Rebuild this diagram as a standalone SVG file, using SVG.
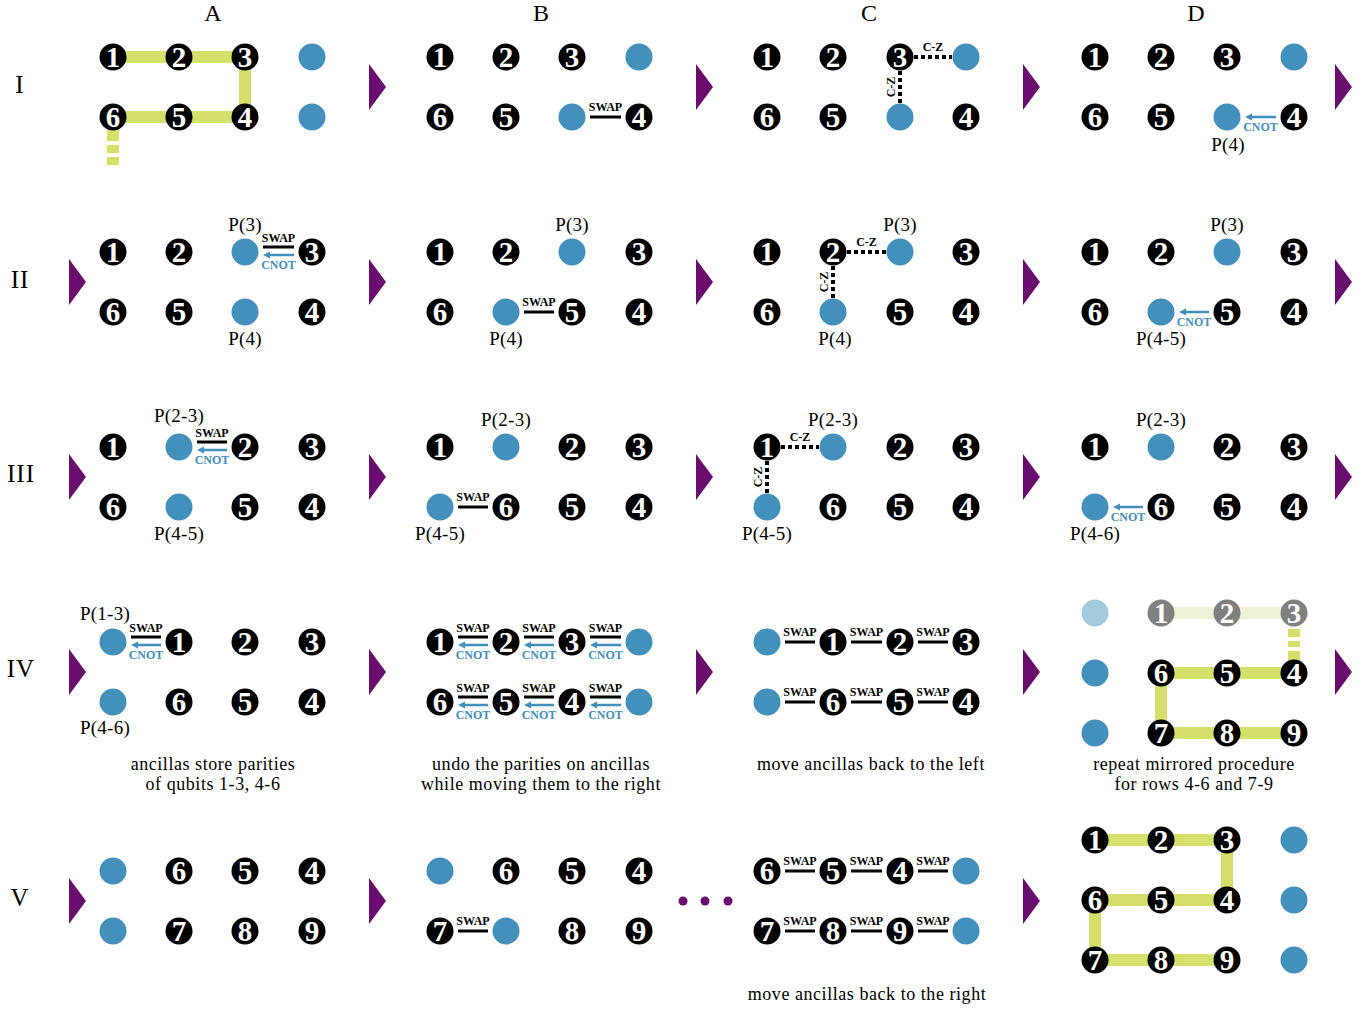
<svg xmlns="http://www.w3.org/2000/svg" width="1372" height="1011" viewBox="0 0 1372 1011">
<style>
.q{fill:#000}
.a{fill:#4390bc}
.la{fill:#a3cadd}
.g{fill:#808080}
.n{font-family:"Liberation Serif",serif;font-weight:bold;font-size:29px;fill:#fff;text-anchor:middle}
.sw{font-family:"Liberation Serif",serif;font-weight:bold;font-size:12px;fill:#000;text-anchor:middle}
.cn{font-family:"Liberation Serif",serif;font-weight:bold;font-size:12px;fill:#4390bc;text-anchor:middle}
.sl{stroke:#000;stroke-width:3}
.cl{stroke:#4390bc;stroke-width:2.5;marker-end:url(#ah)}
.cz{stroke:#000;stroke-width:4;stroke-dasharray:4 3}
.y{stroke:#d5e06a;stroke-width:12;fill:none;stroke-linejoin:miter}
.ly{stroke:#eff3d6;stroke-width:12;fill:none}
.t{font-family:"Liberation Serif",serif;font-size:19px;letter-spacing:0.25px;fill:#000;text-anchor:middle}
.c{font-family:"Liberation Serif",serif;font-size:18px;letter-spacing:0.55px;fill:#000;text-anchor:middle}
.h{font-family:"Liberation Serif",serif;font-size:24px;fill:#000;text-anchor:middle}
.r{font-family:"Liberation Serif",serif;font-size:25px;letter-spacing:1px;fill:#000;text-anchor:middle}
.p{fill:#6b0d6f}
</style>
<defs>
<marker id="ah" markerUnits="userSpaceOnUse" markerWidth="8" markerHeight="8" refX="0" refY="3.5" orient="auto"><path d="M0,0 L7,3.5 L0,7 z" fill="#4390bc"/></marker>
</defs>
<rect width="1372" height="1011" fill="#fff"/>
<g id="headers">
<text class="h" x="213" y="21">A</text><text class="h" x="541" y="21">B</text><text class="h" x="869" y="21">C</text><text class="h" x="1196" y="21">D</text>
<text class="r" x="20" y="93">I</text><text class="r" x="20" y="288">II</text><text class="r" x="21" y="482">III</text><text class="r" x="21" y="677">IV</text><text class="r" x="20" y="906">V</text>
</g>
<g id="step-arrows">
<polygon class="p" points="369,64 386,87 369,110"/><polygon class="p" points="696,64 713,87 696,110"/><polygon class="p" points="1023,64 1040,87 1023,110"/><polygon class="p" points="1335,64 1352,87 1335,110"/>
<polygon class="p" points="69,259 86,282 69,305"/><polygon class="p" points="369,259 386,282 369,305"/><polygon class="p" points="696,259 713,282 696,305"/><polygon class="p" points="1023,259 1040,282 1023,305"/><polygon class="p" points="1335,259 1352,282 1335,305"/>
<polygon class="p" points="69,454 86,477 69,500"/><polygon class="p" points="369,454 386,477 369,500"/><polygon class="p" points="696,454 713,477 696,500"/><polygon class="p" points="1023,454 1040,477 1023,500"/><polygon class="p" points="1335,454 1352,477 1335,500"/>
<polygon class="p" points="69,649 86,672 69,695"/><polygon class="p" points="369,649 386,672 369,695"/><polygon class="p" points="696,649 713,672 696,695"/><polygon class="p" points="1023,649 1040,672 1023,695"/><polygon class="p" points="1335,649 1352,672 1335,695"/>
<polygon class="p" points="69,878 86,901 69,924"/><polygon class="p" points="369,878 386,901 369,924"/><polygon class="p" points="1023,878 1040,901 1023,924"/>
<circle class="p" cx="683" cy="901" r="4.5"/><circle class="p" cx="705" cy="901" r="4.5"/><circle class="p" cx="728" cy="901" r="4.5"/>
</g>
<g id="connectors">
<path class="y" d="M113,57 H245 V117 H113 V141"/>
<path class="y" d="M113,145 V153 M113,157 V165"/>
<line class="ly" x1="1161" y1="613" x2="1294" y2="613"/>
<path class="y" d="M1294,629 V637 M1294,641 V647 M1294,651 V661"/>
<path class="y" d="M1294,673 H1161 V733 H1294"/>
<path class="y" d="M1095,840 H1227 V900 H1095 V960 H1227"/>
<line class="sl" x1="590" y1="117" x2="621" y2="117"/><text class="sw" x="605.5" y="111">SWAP</text>
<line class="cl" x1="1276" y1="117" x2="1252" y2="117"/><text class="cn" x="1260.5" y="131">CNOT</text>
<line class="cz" x1="914" y1="57" x2="952" y2="57"/><text class="sw" x="933" y="51">C-Z</text>
<line class="cz" x1="900" y1="71" x2="900" y2="103"/><text class="sw" x="895" y="87" transform="rotate(-90 895 87)">C-Z</text>
<line class="sl" x1="263" y1="247" x2="294" y2="247"/><line class="cl" x1="294" y1="255" x2="270" y2="255"/><text class="sw" x="278.5" y="242">SWAP</text><text class="cn" x="278.5" y="269">CNOT</text>
<line class="sl" x1="524" y1="312" x2="554" y2="312"/><text class="sw" x="539" y="306">SWAP</text>
<line class="cz" x1="847" y1="252" x2="886" y2="252"/><text class="sw" x="866.5" y="246">C-Z</text>
<line class="cz" x1="833" y1="266" x2="833" y2="298"/><text class="sw" x="828" y="282" transform="rotate(-90 828 282)">C-Z</text>
<line class="cl" x1="1209" y1="312" x2="1186" y2="312"/><text class="cn" x="1194" y="326">CNOT</text>
<line class="sl" x1="197" y1="442" x2="227" y2="442"/><line class="cl" x1="227" y1="450" x2="204" y2="450"/><text class="sw" x="212" y="437">SWAP</text><text class="cn" x="212" y="464">CNOT</text>
<line class="sl" x1="458" y1="507" x2="488" y2="507"/><text class="sw" x="473" y="501">SWAP</text>
<line class="cz" x1="781" y1="447" x2="819" y2="447"/><text class="sw" x="800" y="441">C-Z</text>
<line class="cz" x1="767" y1="461" x2="767" y2="493"/><text class="sw" x="762" y="477" transform="rotate(-90 762 477)">C-Z</text>
<line class="cl" x1="1143" y1="507" x2="1120" y2="507"/><text class="cn" x="1128" y="521">CNOT</text>
<line class="sl" x1="131" y1="637" x2="161" y2="637"/><line class="cl" x1="161" y1="645" x2="138" y2="645"/><text class="sw" x="146" y="632">SWAP</text><text class="cn" x="146" y="659">CNOT</text>
<line class="sl" x1="458" y1="637" x2="488" y2="637"/><line class="cl" x1="488" y1="645" x2="465" y2="645"/><text class="sw" x="473" y="632">SWAP</text><text class="cn" x="473" y="659">CNOT</text>
<line class="sl" x1="524" y1="637" x2="554" y2="637"/><line class="cl" x1="554" y1="645" x2="531" y2="645"/><text class="sw" x="539" y="632">SWAP</text><text class="cn" x="539" y="659">CNOT</text>
<line class="sl" x1="590" y1="637" x2="621" y2="637"/><line class="cl" x1="621" y1="645" x2="597" y2="645"/><text class="sw" x="605.5" y="632">SWAP</text><text class="cn" x="605.5" y="659">CNOT</text>
<line class="sl" x1="458" y1="697" x2="488" y2="697"/><line class="cl" x1="488" y1="705" x2="465" y2="705"/><text class="sw" x="473" y="692">SWAP</text><text class="cn" x="473" y="719">CNOT</text>
<line class="sl" x1="524" y1="697" x2="554" y2="697"/><line class="cl" x1="554" y1="705" x2="531" y2="705"/><text class="sw" x="539" y="692">SWAP</text><text class="cn" x="539" y="719">CNOT</text>
<line class="sl" x1="590" y1="697" x2="621" y2="697"/><line class="cl" x1="621" y1="705" x2="597" y2="705"/><text class="sw" x="605.5" y="692">SWAP</text><text class="cn" x="605.5" y="719">CNOT</text>
<line class="sl" x1="785" y1="642" x2="815" y2="642"/><text class="sw" x="800" y="636">SWAP</text>
<line class="sl" x1="851" y1="642" x2="882" y2="642"/><text class="sw" x="866.5" y="636">SWAP</text>
<line class="sl" x1="918" y1="642" x2="948" y2="642"/><text class="sw" x="933" y="636">SWAP</text>
<line class="sl" x1="785" y1="702" x2="815" y2="702"/><text class="sw" x="800" y="696">SWAP</text>
<line class="sl" x1="851" y1="702" x2="882" y2="702"/><text class="sw" x="866.5" y="696">SWAP</text>
<line class="sl" x1="918" y1="702" x2="948" y2="702"/><text class="sw" x="933" y="696">SWAP</text>
<line class="sl" x1="458" y1="931" x2="488" y2="931"/><text class="sw" x="473" y="925">SWAP</text>
<line class="sl" x1="785" y1="871" x2="815" y2="871"/><text class="sw" x="800" y="865">SWAP</text>
<line class="sl" x1="851" y1="871" x2="882" y2="871"/><text class="sw" x="866.5" y="865">SWAP</text>
<line class="sl" x1="918" y1="871" x2="948" y2="871"/><text class="sw" x="933" y="865">SWAP</text>
<line class="sl" x1="785" y1="931" x2="815" y2="931"/><text class="sw" x="800" y="925">SWAP</text>
<line class="sl" x1="851" y1="931" x2="882" y2="931"/><text class="sw" x="866.5" y="925">SWAP</text>
<line class="sl" x1="918" y1="931" x2="948" y2="931"/><text class="sw" x="933" y="925">SWAP</text>
</g>
<g id="labels">
<text class="t" x="1228" y="151">P(4)</text>
<text class="t" x="245" y="231">P(3)</text><text class="t" x="245" y="345">P(4)</text>
<text class="t" x="572" y="231">P(3)</text><text class="t" x="506" y="345">P(4)</text>
<text class="t" x="900" y="231">P(3)</text><text class="t" x="835" y="345">P(4)</text>
<text class="t" x="1227" y="231">P(3)</text><text class="t" x="1161" y="345">P(4-5)</text>
<text class="t" x="179" y="422">P(2-3)</text><text class="t" x="179" y="540">P(4-5)</text>
<text class="t" x="506" y="426">P(2-3)</text><text class="t" x="440" y="540">P(4-5)</text>
<text class="t" x="833" y="426">P(2-3)</text><text class="t" x="767" y="540">P(4-5)</text>
<text class="t" x="1161" y="426">P(2-3)</text><text class="t" x="1095" y="540">P(4-6)</text>
<text class="t" x="105" y="620">P(1-3)</text><text class="t" x="105" y="734">P(4-6)</text>
<text class="c" x="213" y="770">ancillas store parities</text><text class="c" x="213" y="790">of qubits 1-3, 4-6</text>
<text class="c" x="541" y="770">undo the parities on ancillas</text><text class="c" x="541" y="790">while moving them to the right</text>
<text class="c" x="871" y="770">move ancillas back to the left</text>
<text class="c" x="1194" y="770">repeat mirrored procedure</text><text class="c" x="1194" y="790">for rows 4-6 and 7-9</text>
<text class="c" x="867" y="1000">move ancillas back to the right</text>
</g>
<g id="nodes">
<g id="IA1"><circle class="q" cx="113" cy="57" r="13.5"/><text class="n" x="113" y="67">1</text></g>
<g id="IA2"><circle class="q" cx="179" cy="57" r="13.5"/><text class="n" x="179" y="67">2</text></g>
<g id="IA3"><circle class="q" cx="245" cy="57" r="13.5"/><text class="n" x="245" y="67">3</text></g>
<g id="IAa1"><circle class="a" cx="312" cy="57" r="13.5"/></g>
<g id="IA6"><circle class="q" cx="113" cy="117" r="13.5"/><text class="n" x="113" y="127">6</text></g>
<g id="IA5"><circle class="q" cx="179" cy="117" r="13.5"/><text class="n" x="179" y="127">5</text></g>
<g id="IA4"><circle class="q" cx="245" cy="117" r="13.5"/><text class="n" x="245" y="127">4</text></g>
<g id="IAa2"><circle class="a" cx="312" cy="117" r="13.5"/></g>
<g id="IB1"><circle class="q" cx="440" cy="57" r="13.5"/><text class="n" x="440" y="67">1</text></g>
<g id="IB2"><circle class="q" cx="506" cy="57" r="13.5"/><text class="n" x="506" y="67">2</text></g>
<g id="IB3"><circle class="q" cx="572" cy="57" r="13.5"/><text class="n" x="572" y="67">3</text></g>
<g id="IBa1"><circle class="a" cx="639" cy="57" r="13.5"/></g>
<g id="IB6"><circle class="q" cx="440" cy="117" r="13.5"/><text class="n" x="440" y="127">6</text></g>
<g id="IB5"><circle class="q" cx="506" cy="117" r="13.5"/><text class="n" x="506" y="127">5</text></g>
<g id="IBa2"><circle class="a" cx="572" cy="117" r="13.5"/></g>
<g id="IB4"><circle class="q" cx="639" cy="117" r="13.5"/><text class="n" x="639" y="127">4</text></g>
<g id="IC1"><circle class="q" cx="767" cy="57" r="13.5"/><text class="n" x="767" y="67">1</text></g>
<g id="IC2"><circle class="q" cx="833" cy="57" r="13.5"/><text class="n" x="833" y="67">2</text></g>
<g id="IC3"><circle class="q" cx="900" cy="57" r="13.5"/><text class="n" x="900" y="67">3</text></g>
<g id="ICa1"><circle class="a" cx="966" cy="57" r="13.5"/></g>
<g id="IC6"><circle class="q" cx="767" cy="117" r="13.5"/><text class="n" x="767" y="127">6</text></g>
<g id="IC5"><circle class="q" cx="833" cy="117" r="13.5"/><text class="n" x="833" y="127">5</text></g>
<g id="ICa2"><circle class="a" cx="900" cy="117" r="13.5"/></g>
<g id="IC4"><circle class="q" cx="966" cy="117" r="13.5"/><text class="n" x="966" y="127">4</text></g>
<g id="ID1"><circle class="q" cx="1095" cy="57" r="13.5"/><text class="n" x="1095" y="67">1</text></g>
<g id="ID2"><circle class="q" cx="1161" cy="57" r="13.5"/><text class="n" x="1161" y="67">2</text></g>
<g id="ID3"><circle class="q" cx="1227" cy="57" r="13.5"/><text class="n" x="1227" y="67">3</text></g>
<g id="IDa1"><circle class="a" cx="1294" cy="57" r="13.5"/></g>
<g id="ID6"><circle class="q" cx="1095" cy="117" r="13.5"/><text class="n" x="1095" y="127">6</text></g>
<g id="ID5"><circle class="q" cx="1161" cy="117" r="13.5"/><text class="n" x="1161" y="127">5</text></g>
<g id="IDa2"><circle class="a" cx="1227" cy="117" r="13.5"/></g>
<g id="ID4"><circle class="q" cx="1294" cy="117" r="13.5"/><text class="n" x="1294" y="127">4</text></g>
<g id="IIA1"><circle class="q" cx="113" cy="252" r="13.5"/><text class="n" x="113" y="262">1</text></g>
<g id="IIA2"><circle class="q" cx="179" cy="252" r="13.5"/><text class="n" x="179" y="262">2</text></g>
<g id="IIAa1"><circle class="a" cx="245" cy="252" r="13.5"/></g>
<g id="IIA3"><circle class="q" cx="312" cy="252" r="13.5"/><text class="n" x="312" y="262">3</text></g>
<g id="IIA6"><circle class="q" cx="113" cy="312" r="13.5"/><text class="n" x="113" y="322">6</text></g>
<g id="IIA5"><circle class="q" cx="179" cy="312" r="13.5"/><text class="n" x="179" y="322">5</text></g>
<g id="IIAa2"><circle class="a" cx="245" cy="312" r="13.5"/></g>
<g id="IIA4"><circle class="q" cx="312" cy="312" r="13.5"/><text class="n" x="312" y="322">4</text></g>
<g id="IIB1"><circle class="q" cx="440" cy="252" r="13.5"/><text class="n" x="440" y="262">1</text></g>
<g id="IIB2"><circle class="q" cx="506" cy="252" r="13.5"/><text class="n" x="506" y="262">2</text></g>
<g id="IIBa1"><circle class="a" cx="572" cy="252" r="13.5"/></g>
<g id="IIB3"><circle class="q" cx="639" cy="252" r="13.5"/><text class="n" x="639" y="262">3</text></g>
<g id="IIB6"><circle class="q" cx="440" cy="312" r="13.5"/><text class="n" x="440" y="322">6</text></g>
<g id="IIBa2"><circle class="a" cx="506" cy="312" r="13.5"/></g>
<g id="IIB5"><circle class="q" cx="572" cy="312" r="13.5"/><text class="n" x="572" y="322">5</text></g>
<g id="IIB4"><circle class="q" cx="639" cy="312" r="13.5"/><text class="n" x="639" y="322">4</text></g>
<g id="IIC1"><circle class="q" cx="767" cy="252" r="13.5"/><text class="n" x="767" y="262">1</text></g>
<g id="IIC2"><circle class="q" cx="833" cy="252" r="13.5"/><text class="n" x="833" y="262">2</text></g>
<g id="IICa1"><circle class="a" cx="900" cy="252" r="13.5"/></g>
<g id="IIC3"><circle class="q" cx="966" cy="252" r="13.5"/><text class="n" x="966" y="262">3</text></g>
<g id="IIC6"><circle class="q" cx="767" cy="312" r="13.5"/><text class="n" x="767" y="322">6</text></g>
<g id="IICa2"><circle class="a" cx="833" cy="312" r="13.5"/></g>
<g id="IIC5"><circle class="q" cx="900" cy="312" r="13.5"/><text class="n" x="900" y="322">5</text></g>
<g id="IIC4"><circle class="q" cx="966" cy="312" r="13.5"/><text class="n" x="966" y="322">4</text></g>
<g id="IID1"><circle class="q" cx="1095" cy="252" r="13.5"/><text class="n" x="1095" y="262">1</text></g>
<g id="IID2"><circle class="q" cx="1161" cy="252" r="13.5"/><text class="n" x="1161" y="262">2</text></g>
<g id="IIDa1"><circle class="a" cx="1227" cy="252" r="13.5"/></g>
<g id="IID3"><circle class="q" cx="1294" cy="252" r="13.5"/><text class="n" x="1294" y="262">3</text></g>
<g id="IID6"><circle class="q" cx="1095" cy="312" r="13.5"/><text class="n" x="1095" y="322">6</text></g>
<g id="IIDa2"><circle class="a" cx="1161" cy="312" r="13.5"/></g>
<g id="IID5"><circle class="q" cx="1227" cy="312" r="13.5"/><text class="n" x="1227" y="322">5</text></g>
<g id="IID4"><circle class="q" cx="1294" cy="312" r="13.5"/><text class="n" x="1294" y="322">4</text></g>
<g id="IIIA1"><circle class="q" cx="113" cy="447" r="13.5"/><text class="n" x="113" y="457">1</text></g>
<g id="IIIAa1"><circle class="a" cx="179" cy="447" r="13.5"/></g>
<g id="IIIA2"><circle class="q" cx="245" cy="447" r="13.5"/><text class="n" x="245" y="457">2</text></g>
<g id="IIIA3"><circle class="q" cx="312" cy="447" r="13.5"/><text class="n" x="312" y="457">3</text></g>
<g id="IIIA6"><circle class="q" cx="113" cy="507" r="13.5"/><text class="n" x="113" y="517">6</text></g>
<g id="IIIAa2"><circle class="a" cx="179" cy="507" r="13.5"/></g>
<g id="IIIA5"><circle class="q" cx="245" cy="507" r="13.5"/><text class="n" x="245" y="517">5</text></g>
<g id="IIIA4"><circle class="q" cx="312" cy="507" r="13.5"/><text class="n" x="312" y="517">4</text></g>
<g id="IIIB1"><circle class="q" cx="440" cy="447" r="13.5"/><text class="n" x="440" y="457">1</text></g>
<g id="IIIBa1"><circle class="a" cx="506" cy="447" r="13.5"/></g>
<g id="IIIB2"><circle class="q" cx="572" cy="447" r="13.5"/><text class="n" x="572" y="457">2</text></g>
<g id="IIIB3"><circle class="q" cx="639" cy="447" r="13.5"/><text class="n" x="639" y="457">3</text></g>
<g id="IIIBa2"><circle class="a" cx="440" cy="507" r="13.5"/></g>
<g id="IIIB6"><circle class="q" cx="506" cy="507" r="13.5"/><text class="n" x="506" y="517">6</text></g>
<g id="IIIB5"><circle class="q" cx="572" cy="507" r="13.5"/><text class="n" x="572" y="517">5</text></g>
<g id="IIIB4"><circle class="q" cx="639" cy="507" r="13.5"/><text class="n" x="639" y="517">4</text></g>
<g id="IIIC1"><circle class="q" cx="767" cy="447" r="13.5"/><text class="n" x="767" y="457">1</text></g>
<g id="IIICa1"><circle class="a" cx="833" cy="447" r="13.5"/></g>
<g id="IIIC2"><circle class="q" cx="900" cy="447" r="13.5"/><text class="n" x="900" y="457">2</text></g>
<g id="IIIC3"><circle class="q" cx="966" cy="447" r="13.5"/><text class="n" x="966" y="457">3</text></g>
<g id="IIICa2"><circle class="a" cx="767" cy="507" r="13.5"/></g>
<g id="IIIC6"><circle class="q" cx="833" cy="507" r="13.5"/><text class="n" x="833" y="517">6</text></g>
<g id="IIIC5"><circle class="q" cx="900" cy="507" r="13.5"/><text class="n" x="900" y="517">5</text></g>
<g id="IIIC4"><circle class="q" cx="966" cy="507" r="13.5"/><text class="n" x="966" y="517">4</text></g>
<g id="IIID1"><circle class="q" cx="1095" cy="447" r="13.5"/><text class="n" x="1095" y="457">1</text></g>
<g id="IIIDa1"><circle class="a" cx="1161" cy="447" r="13.5"/></g>
<g id="IIID2"><circle class="q" cx="1227" cy="447" r="13.5"/><text class="n" x="1227" y="457">2</text></g>
<g id="IIID3"><circle class="q" cx="1294" cy="447" r="13.5"/><text class="n" x="1294" y="457">3</text></g>
<g id="IIIDa2"><circle class="a" cx="1095" cy="507" r="13.5"/></g>
<g id="IIID6"><circle class="q" cx="1161" cy="507" r="13.5"/><text class="n" x="1161" y="517">6</text></g>
<g id="IIID5"><circle class="q" cx="1227" cy="507" r="13.5"/><text class="n" x="1227" y="517">5</text></g>
<g id="IIID4"><circle class="q" cx="1294" cy="507" r="13.5"/><text class="n" x="1294" y="517">4</text></g>
<g id="IVAa1"><circle class="a" cx="113" cy="642" r="13.5"/></g>
<g id="IVA1"><circle class="q" cx="179" cy="642" r="13.5"/><text class="n" x="179" y="652">1</text></g>
<g id="IVA2"><circle class="q" cx="245" cy="642" r="13.5"/><text class="n" x="245" y="652">2</text></g>
<g id="IVA3"><circle class="q" cx="312" cy="642" r="13.5"/><text class="n" x="312" y="652">3</text></g>
<g id="IVAa2"><circle class="a" cx="113" cy="702" r="13.5"/></g>
<g id="IVA6"><circle class="q" cx="179" cy="702" r="13.5"/><text class="n" x="179" y="712">6</text></g>
<g id="IVA5"><circle class="q" cx="245" cy="702" r="13.5"/><text class="n" x="245" y="712">5</text></g>
<g id="IVA4"><circle class="q" cx="312" cy="702" r="13.5"/><text class="n" x="312" y="712">4</text></g>
<g id="IVB1"><circle class="q" cx="440" cy="642" r="13.5"/><text class="n" x="440" y="652">1</text></g>
<g id="IVB2"><circle class="q" cx="506" cy="642" r="13.5"/><text class="n" x="506" y="652">2</text></g>
<g id="IVB3"><circle class="q" cx="572" cy="642" r="13.5"/><text class="n" x="572" y="652">3</text></g>
<g id="IVBa1"><circle class="a" cx="639" cy="642" r="13.5"/></g>
<g id="IVB6"><circle class="q" cx="440" cy="702" r="13.5"/><text class="n" x="440" y="712">6</text></g>
<g id="IVB5"><circle class="q" cx="506" cy="702" r="13.5"/><text class="n" x="506" y="712">5</text></g>
<g id="IVB4"><circle class="q" cx="572" cy="702" r="13.5"/><text class="n" x="572" y="712">4</text></g>
<g id="IVBa2"><circle class="a" cx="639" cy="702" r="13.5"/></g>
<g id="IVCa1"><circle class="a" cx="767" cy="642" r="13.5"/></g>
<g id="IVC1"><circle class="q" cx="833" cy="642" r="13.5"/><text class="n" x="833" y="652">1</text></g>
<g id="IVC2"><circle class="q" cx="900" cy="642" r="13.5"/><text class="n" x="900" y="652">2</text></g>
<g id="IVC3"><circle class="q" cx="966" cy="642" r="13.5"/><text class="n" x="966" y="652">3</text></g>
<g id="IVCa2"><circle class="a" cx="767" cy="702" r="13.5"/></g>
<g id="IVC6"><circle class="q" cx="833" cy="702" r="13.5"/><text class="n" x="833" y="712">6</text></g>
<g id="IVC5"><circle class="q" cx="900" cy="702" r="13.5"/><text class="n" x="900" y="712">5</text></g>
<g id="IVC4"><circle class="q" cx="966" cy="702" r="13.5"/><text class="n" x="966" y="712">4</text></g>
<g id="IVDa1"><circle class="la" cx="1095" cy="613" r="13.5"/></g>
<g id="IVD1"><circle class="g" cx="1161" cy="613" r="13.5"/><text class="n" x="1161" y="623">1</text></g>
<g id="IVD2"><circle class="g" cx="1227" cy="613" r="13.5"/><text class="n" x="1227" y="623">2</text></g>
<g id="IVD3"><circle class="g" cx="1294" cy="613" r="13.5"/><text class="n" x="1294" y="623">3</text></g>
<g id="IVDa2"><circle class="a" cx="1095" cy="673" r="13.5"/></g>
<g id="IVD6"><circle class="q" cx="1161" cy="673" r="13.5"/><text class="n" x="1161" y="683">6</text></g>
<g id="IVD5"><circle class="q" cx="1227" cy="673" r="13.5"/><text class="n" x="1227" y="683">5</text></g>
<g id="IVD4"><circle class="q" cx="1294" cy="673" r="13.5"/><text class="n" x="1294" y="683">4</text></g>
<g id="IVDa3"><circle class="a" cx="1095" cy="733" r="13.5"/></g>
<g id="IVD7"><circle class="q" cx="1161" cy="733" r="13.5"/><text class="n" x="1161" y="743">7</text></g>
<g id="IVD8"><circle class="q" cx="1227" cy="733" r="13.5"/><text class="n" x="1227" y="743">8</text></g>
<g id="IVD9"><circle class="q" cx="1294" cy="733" r="13.5"/><text class="n" x="1294" y="743">9</text></g>
<g id="VAa1"><circle class="a" cx="113" cy="871" r="13.5"/></g>
<g id="VA6"><circle class="q" cx="179" cy="871" r="13.5"/><text class="n" x="179" y="881">6</text></g>
<g id="VA5"><circle class="q" cx="245" cy="871" r="13.5"/><text class="n" x="245" y="881">5</text></g>
<g id="VA4"><circle class="q" cx="312" cy="871" r="13.5"/><text class="n" x="312" y="881">4</text></g>
<g id="VAa2"><circle class="a" cx="113" cy="931" r="13.5"/></g>
<g id="VA7"><circle class="q" cx="179" cy="931" r="13.5"/><text class="n" x="179" y="941">7</text></g>
<g id="VA8"><circle class="q" cx="245" cy="931" r="13.5"/><text class="n" x="245" y="941">8</text></g>
<g id="VA9"><circle class="q" cx="312" cy="931" r="13.5"/><text class="n" x="312" y="941">9</text></g>
<g id="VBa1"><circle class="a" cx="440" cy="871" r="13.5"/></g>
<g id="VB6"><circle class="q" cx="506" cy="871" r="13.5"/><text class="n" x="506" y="881">6</text></g>
<g id="VB5"><circle class="q" cx="572" cy="871" r="13.5"/><text class="n" x="572" y="881">5</text></g>
<g id="VB4"><circle class="q" cx="639" cy="871" r="13.5"/><text class="n" x="639" y="881">4</text></g>
<g id="VB7"><circle class="q" cx="440" cy="931" r="13.5"/><text class="n" x="440" y="941">7</text></g>
<g id="VBa2"><circle class="a" cx="506" cy="931" r="13.5"/></g>
<g id="VB8"><circle class="q" cx="572" cy="931" r="13.5"/><text class="n" x="572" y="941">8</text></g>
<g id="VB9"><circle class="q" cx="639" cy="931" r="13.5"/><text class="n" x="639" y="941">9</text></g>
<g id="VC6"><circle class="q" cx="767" cy="871" r="13.5"/><text class="n" x="767" y="881">6</text></g>
<g id="VC5"><circle class="q" cx="833" cy="871" r="13.5"/><text class="n" x="833" y="881">5</text></g>
<g id="VC4"><circle class="q" cx="900" cy="871" r="13.5"/><text class="n" x="900" y="881">4</text></g>
<g id="VCa1"><circle class="a" cx="966" cy="871" r="13.5"/></g>
<g id="VC7"><circle class="q" cx="767" cy="931" r="13.5"/><text class="n" x="767" y="941">7</text></g>
<g id="VC8"><circle class="q" cx="833" cy="931" r="13.5"/><text class="n" x="833" y="941">8</text></g>
<g id="VC9"><circle class="q" cx="900" cy="931" r="13.5"/><text class="n" x="900" y="941">9</text></g>
<g id="VCa2"><circle class="a" cx="966" cy="931" r="13.5"/></g>
<g id="VD1"><circle class="q" cx="1095" cy="840" r="13.5"/><text class="n" x="1095" y="850">1</text></g>
<g id="VD2"><circle class="q" cx="1161" cy="840" r="13.5"/><text class="n" x="1161" y="850">2</text></g>
<g id="VD3"><circle class="q" cx="1227" cy="840" r="13.5"/><text class="n" x="1227" y="850">3</text></g>
<g id="VDa1"><circle class="a" cx="1294" cy="840" r="13.5"/></g>
<g id="VD6"><circle class="q" cx="1095" cy="900" r="13.5"/><text class="n" x="1095" y="910">6</text></g>
<g id="VD5"><circle class="q" cx="1161" cy="900" r="13.5"/><text class="n" x="1161" y="910">5</text></g>
<g id="VD4"><circle class="q" cx="1227" cy="900" r="13.5"/><text class="n" x="1227" y="910">4</text></g>
<g id="VDa2"><circle class="a" cx="1294" cy="900" r="13.5"/></g>
<g id="VD7"><circle class="q" cx="1095" cy="960" r="13.5"/><text class="n" x="1095" y="970">7</text></g>
<g id="VD8"><circle class="q" cx="1161" cy="960" r="13.5"/><text class="n" x="1161" y="970">8</text></g>
<g id="VD9"><circle class="q" cx="1227" cy="960" r="13.5"/><text class="n" x="1227" y="970">9</text></g>
<g id="VDa3"><circle class="a" cx="1294" cy="960" r="13.5"/></g>
</g>
</svg>
